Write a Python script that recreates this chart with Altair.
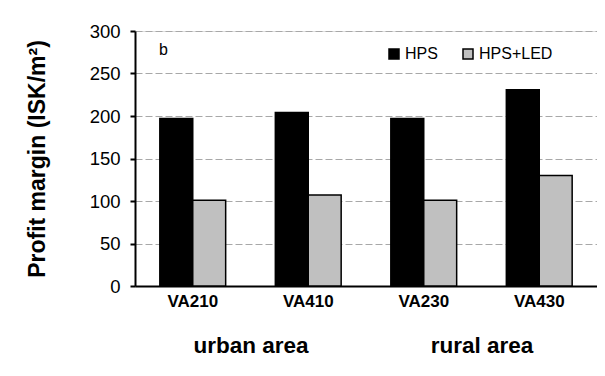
import altair as alt
import pandas as pd

groups = ["VA210", "VA410", "VA230", "VA430"]
series = ["HPS", "HPS+LED"]
hps = [197, 204, 197, 231]
hps_led = [101, 107, 101, 130]
areas = ["urban area", "rural area"]
panel_label = "b"

rows = []
for g, a, b in zip(groups, hps, hps_led):
    rows.append({"group": g, "series": "HPS", "value": a})
    rows.append({"group": g, "series": "HPS+LED", "value": b})
df = pd.DataFrame(rows)
area_df = pd.DataFrame({"area": areas})

FONT = "Liberation Sans"

bars = alt.Chart(df).mark_bar(stroke="black", strokeWidth=1.5).encode(
    x=alt.X("group:N", sort=groups,
            scale=alt.Scale(paddingInner=0.43, paddingOuter=0.215),
            axis=alt.Axis(title=None, labelAngle=0, labelFont=FONT, labelFontSize=17,
                          labelFontWeight="bold", labelColor="black", labelPadding=7,
                          ticks=False, domainColor="black", domainWidth=2, grid=False)),
    xOffset=alt.XOffset("series:N", sort=series),
    y=alt.Y("value:Q", scale=alt.Scale(domain=[0, 300]),
            axis=alt.Axis(title="Profit margin  (ISK/m²)", values=[0, 50, 100, 150, 200, 250, 300],
                          labelFont=FONT, labelFontSize=18.5, labelColor="black", labelPadding=10,
                          tickColor="black", tickSize=5, tickWidth=2,
                          domainColor="black", domainWidth=2,
                          grid=True, gridColor="#a8a8a8", gridDash=[7, 3], gridWidth=1,
                          titleFont=FONT, titleFontSize=23, titleFontWeight="bold",
                          titleColor="black", titlePadding=40)),
    color=alt.Color("series:N", sort=series,
                    scale=alt.Scale(domain=series, range=["black", "#c0c0c0"]),
                    legend=alt.Legend(title=None, orient="none", legendX=251, legendY=15,
                                      direction="horizontal", symbolType="square",
                                      symbolSize=100, symbolStrokeColor="black",
                                      symbolStrokeWidth=1.5, labelFont=FONT, labelFontSize=16,
                                      labelColor="black", columnPadding=22, labelOffset=3)),
)

area_layer = alt.Chart(area_df).mark_text(text="", opacity=0).encode(
    x=alt.X("area:N", sort=areas,
            axis=alt.Axis(title=None, orient="bottom", labelAngle=0, domain=False, ticks=False,
                          labelFont=FONT, labelFontSize=22.5, labelFontWeight="bold",
                          labelColor="black", labelPadding=48, grid=False)),
)

label_b = alt.Chart(pd.DataFrame({"t": [panel_label]})).mark_text(
    font=FONT, fontSize=16, color="black", align="left", baseline="middle"
).encode(text="t:N", x=alt.value(24), y=alt.value(19))

chart = alt.layer(bars, area_layer, label_b).resolve_scale(x="independent").properties(
    width=462, height=255,
    autosize=alt.AutoSizeParams(type="none"),
    padding={"left": 127, "top": 23, "right": 0, "bottom": 82},
).configure_view(stroke=None).configure(background="white")

chart.save("out.html", embed_options={"renderer": "svg", "actions": False})
